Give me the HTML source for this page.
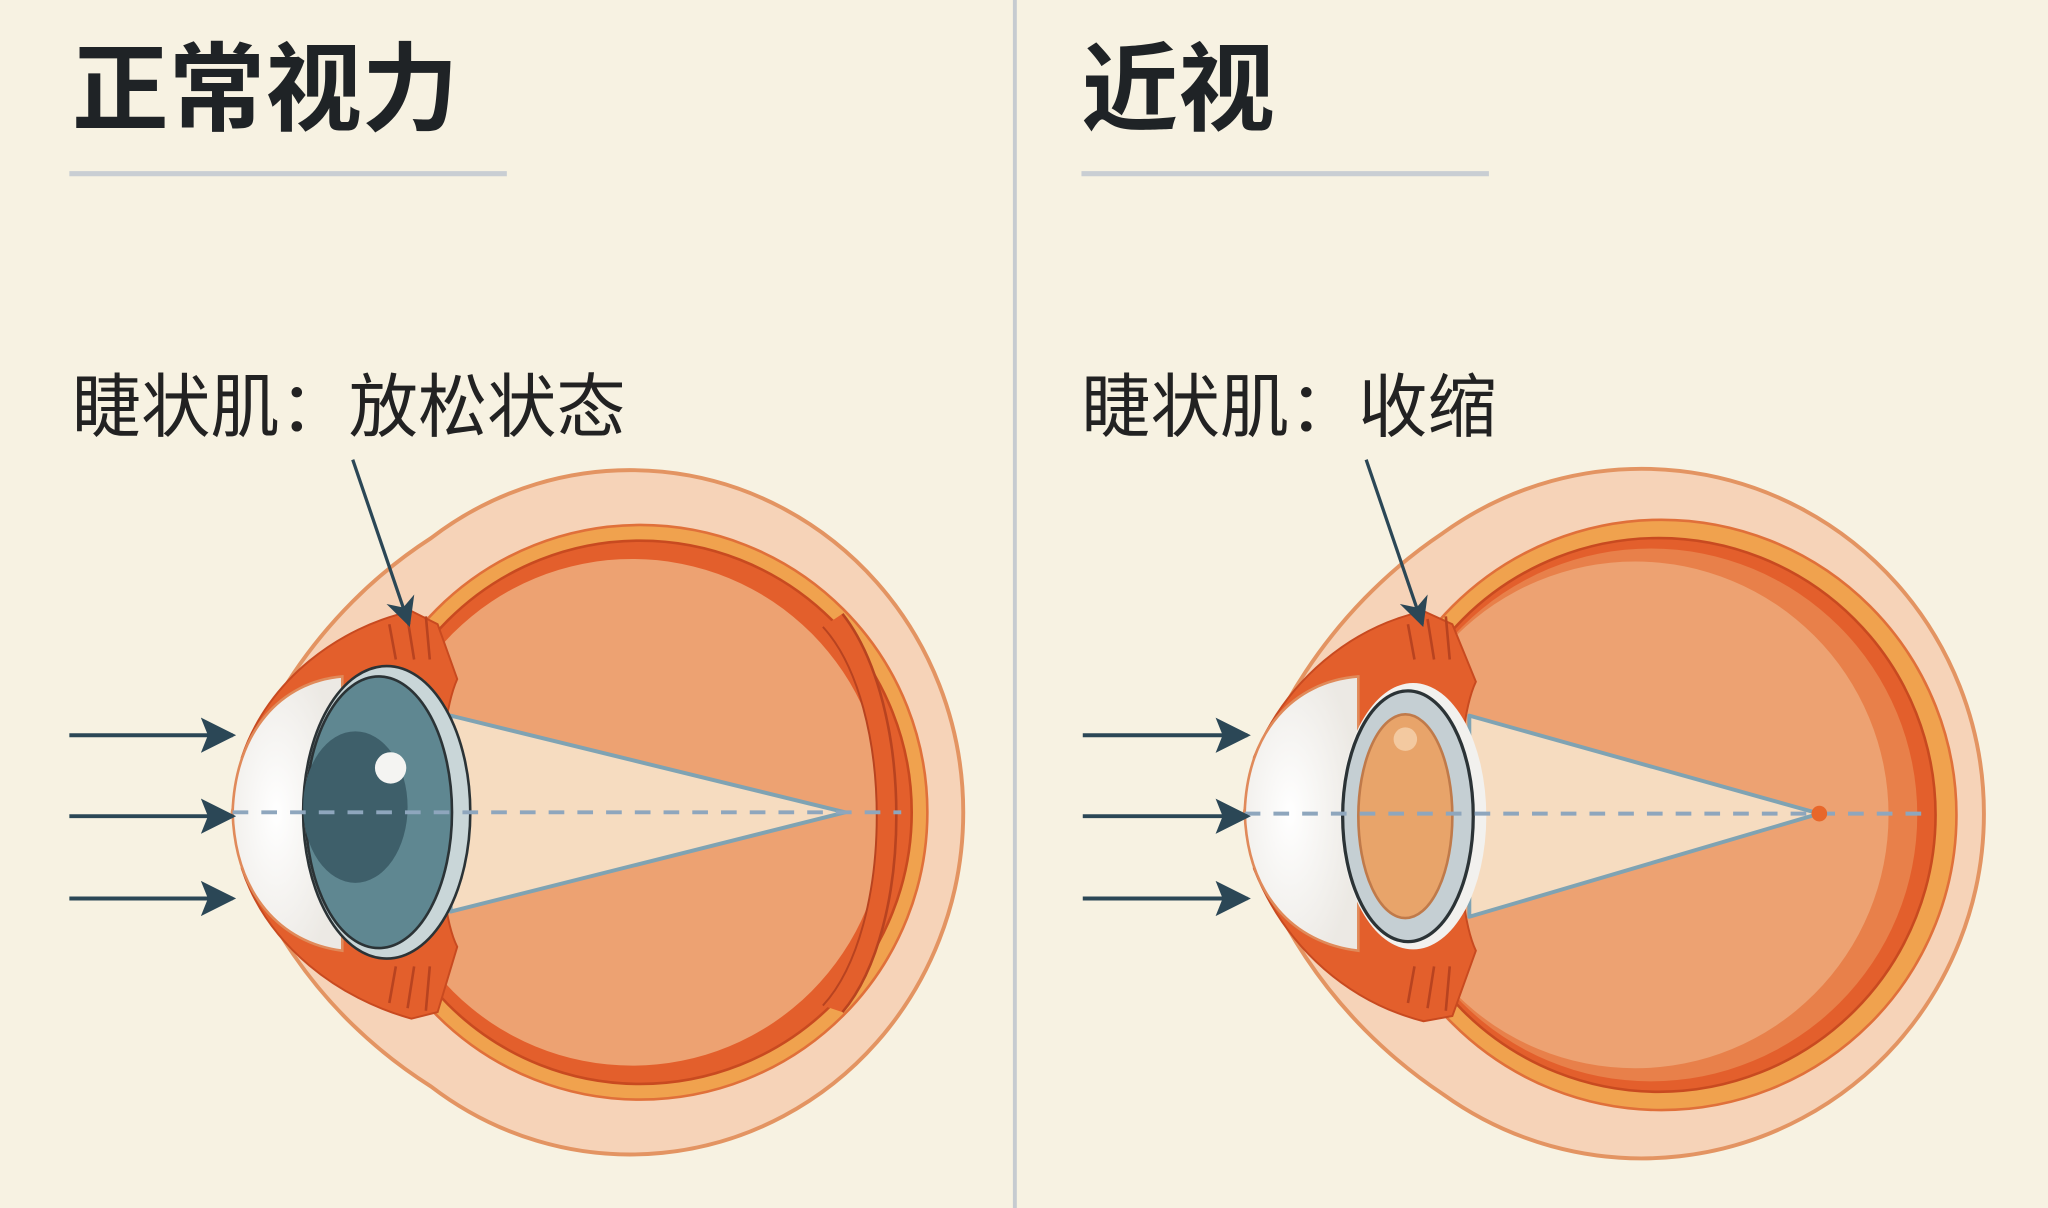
<!DOCTYPE html>
<html><head><meta charset="utf-8"><style>
html,body{margin:0;padding:0;background:#f7f2e2;}
svg{display:block;}
text{font-family:"Liberation Sans","Noto Sans CJK SC",sans-serif;}
</style></head><body>
<svg width="2048" height="1208" viewBox="0 0 1568 925" xmlns="http://www.w3.org/2000/svg">
<defs>
<marker id="ah" viewBox="0 0 10 10" refX="9" refY="5" markerWidth="9" markerHeight="9" orient="auto" markerUnits="strokeWidth"><path d="M0,0 L10,5 L0,10 L2,5 Z" fill="#2b4756"/></marker>
<marker id="ah2" viewBox="0 0 10 10" refX="9" refY="5" markerWidth="9" markerHeight="9" orient="auto" markerUnits="strokeWidth"><path d="M0,0 L10,5 L0,10 L3,5 Z" fill="#2b4756"/></marker>
<radialGradient id="cg" cx="0.4" cy="0.5" r="0.6"><stop offset="0" stop-color="#ffffff"/><stop offset="1" stop-color="#ece9e4"/></radialGradient>
</defs>
<rect width="1568" height="925" fill="#f7f2e2"/>
<line x1="777" y1="0" x2="777" y2="925" stroke="#c6cbd0" stroke-width="3"/>

<text x="55" y="94" font-size="74" font-weight="bold" fill="#1f2326">正常视力</text>
<line x1="53" y1="133" x2="388" y2="133" stroke="#c9ced3" stroke-width="4"/>
<text x="55" y="330" font-size="53" fill="#222">睫状肌：放松状态</text>

<text x="828" y="94" font-size="74" font-weight="bold" fill="#1f2326">近视</text>
<line x1="828" y1="133" x2="1140" y2="133" stroke="#c9ced3" stroke-width="4"/>
<text x="828" y="330" font-size="53" fill="#222">睫状肌：收缩</text>

<!-- EYE 1 -->
<g>
<path d="M178,622 C190,560 240,470 330,412 A255 262 0 1 1 330 832 C240,775 190,690 178,622 Z" fill="#f6d3b8" stroke="#e39462" stroke-width="3"/>
<circle cx="490" cy="622" r="220" fill="#f0a24e" stroke="#e0703a" stroke-width="2"/>
<circle cx="490" cy="622" r="208" fill="#e35f2c" stroke="#c84a20" stroke-width="2"/>
<circle cx="484" cy="622" r="194" fill="#eda272"/>
<path d="M630,480 C685,540 685,710 630,770 L645,775 C700,710 700,540 645,470 Z" fill="#e35f2c"/>
<path d="M645,470 C700,540 700,710 645,775" fill="none" stroke="#b84320" stroke-width="2"/>
<path d="M630,480 C685,540 685,710 630,770" fill="none" stroke="#b84320" stroke-width="1.5"/>
<!-- ciliary -->
<path d="M185,580 C205,520 260,480 315,468 L335,478 L350,520 C332,560 332,690 350,725 L335,775 L315,780 C260,765 205,725 185,665 Z" fill="#e35f2c" stroke="#c84a20" stroke-width="1.5"/>
<path d="M298,478 L303,505 M312,474 L317,505 M326,472 L329,505 M298,768 L303,740 M312,772 L317,740 M326,774 L329,740" stroke="#b84320" stroke-width="2"/>
<!-- cornea -->
<path d="M178,622 C180,560 215,522 262,518 L262,728 C215,722 180,685 178,622 Z" fill="url(#cg)" stroke="#e08a5a" stroke-width="2"/>
<polygon points="345,548 345,698 647,622" fill="#f6dcc0" stroke="#7fa3b3" stroke-width="3" stroke-linejoin="round"/>
<ellipse cx="296" cy="622" rx="64" ry="112" fill="#c9d6d8" stroke="#2b3336" stroke-width="2"/>
<ellipse cx="290" cy="622" rx="56" ry="104" fill="#5f8791" stroke="#2b3336" stroke-width="2"/>
<ellipse cx="272" cy="618" rx="40" ry="58" fill="#3e5f6a"/>
<circle cx="299" cy="588" r="12" fill="#f4f4f2"/>
<line x1="178" y1="622" x2="690" y2="622" stroke="#8ea6bd" stroke-width="3" stroke-dasharray="12,10"/>
<line x1="270" y1="352" x2="313" y2="478" stroke="#2b4756" stroke-width="2.5" marker-end="url(#ah2)"/>
</g>
<g stroke="#2b4756" stroke-width="3" marker-end="url(#ah)">
<line x1="53" y1="563" x2="178" y2="563"/>
<line x1="53" y1="625" x2="178" y2="625"/>
<line x1="53" y1="688" x2="178" y2="688"/>
</g>

<!-- EYE 2 -->
<g>
<path d="M953,622 C965,560 1015,468 1105,408 A262 264 0 1 1 1105 838 C1015,778 965,690 953,622 Z" fill="#f6d3b8" stroke="#e39462" stroke-width="3"/>
<circle cx="1272" cy="624" r="226" fill="#f0a24e" stroke="#e0703a" stroke-width="2"/>
<circle cx="1270" cy="624" r="212" fill="#e35f2c" stroke="#c84a20" stroke-width="2"/>
<circle cx="1264" cy="624" r="204" fill="#e8804a"/>
<circle cx="1252" cy="624" r="194" fill="#eda272"/>
<path d="M960,580 C985,520 1035,480 1090,468 L1112,478 L1130,522 C1112,560 1112,690 1130,728 L1112,778 L1090,782 C1035,768 985,728 960,665 Z" fill="#e35f2c" stroke="#c84a20" stroke-width="1.5"/>
<path d="M1078,478 L1083,505 M1093,474 L1098,505 M1107,472 L1110,505 M1078,768 L1083,740 M1093,772 L1098,740 M1107,774 L1110,740" stroke="#b84320" stroke-width="2"/>
<path d="M953,622 C955,560 990,522 1040,518 L1040,728 C990,722 955,685 953,622 Z" fill="url(#cg)" stroke="#e08a5a" stroke-width="2"/>
<polygon points="1125,548 1125,702 1393,623" fill="#f6dcc0" stroke="#7fa3b3" stroke-width="3" stroke-linejoin="round"/>
<ellipse cx="1082" cy="625" rx="56" ry="102" fill="#f2f1ee"/>
<ellipse cx="1078" cy="625" rx="50" ry="96" fill="#c5cfd3" stroke="#2b3336" stroke-width="2.5"/>
<ellipse cx="1076" cy="625" rx="36" ry="78" fill="#e8a46a" stroke="#c07a4a" stroke-width="2"/>
<circle cx="1076" cy="566" r="9" fill="#f3c9a0"/>
<line x1="953" y1="623" x2="1475" y2="623" stroke="#8ea6bd" stroke-width="3" stroke-dasharray="12,10"/>
<circle cx="1393" cy="623" r="6" fill="#e8672a"/>
<line x1="1046" y1="352" x2="1089" y2="478" stroke="#2b4756" stroke-width="2.5" marker-end="url(#ah2)"/>
</g>
<g stroke="#2b4756" stroke-width="3" marker-end="url(#ah)">
<line x1="829" y1="563" x2="955" y2="563"/>
<line x1="829" y1="625" x2="955" y2="625"/>
<line x1="829" y1="688" x2="955" y2="688"/>
</g>
</svg>
</body></html>
